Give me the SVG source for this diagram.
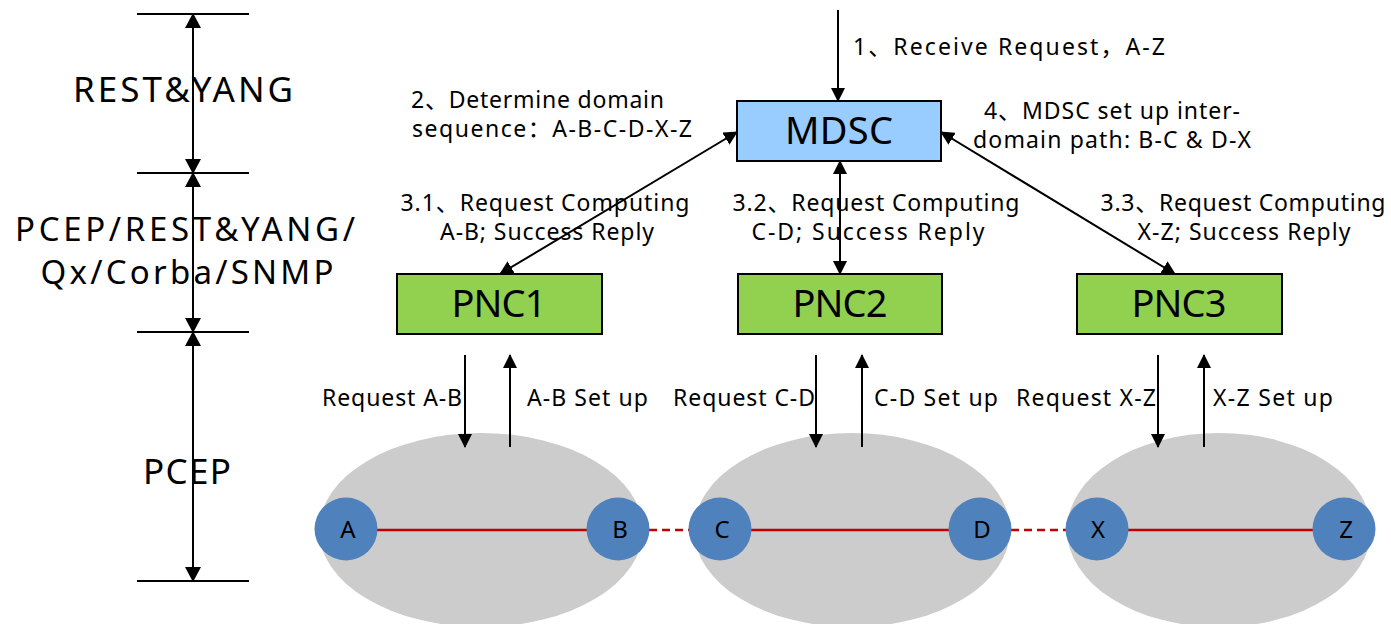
<svg xmlns="http://www.w3.org/2000/svg" width="1391" height="624" viewBox="0 0 1391 624">
  <style>
    text { font-family: "Noto Sans", "Open Sans", "Noto Sans CJK SC", sans-serif; fill: #000; }
    .lbl { font-size: 23px; }
    .big { font-size: 35px; }
    .two { font-size: 33px; }
    .box { font-size: 38px; text-anchor: middle; }
    .nd { font-size: 24px; text-anchor: middle; }
    .mid { text-anchor: middle; }
    .ln { stroke: #000; stroke-width: 2; fill: none; }
    .tick { stroke: #000; stroke-width: 2; }
    .dom { fill: #cccccc; }
    .pe { fill: #4f81bd; }
    .link { stroke: #c00000; stroke-width: 2.5; }
    .dash { stroke-dasharray: 8 5; }
  </style>
  <defs>
    <marker id="ah" viewBox="0 0 14 14" refX="13" refY="7" markerWidth="14" markerHeight="14" markerUnits="userSpaceOnUse" orient="auto-start-reverse">
      <path d="M0,0 L14,7 L0,14 z" fill="#000"/>
    </marker>
    <marker id="ahL" viewBox="0 0 15 16" refX="14" refY="8" markerWidth="15" markerHeight="16" markerUnits="userSpaceOnUse" orient="auto-start-reverse">
      <path d="M0,0 L15,8 L0,16 z" fill="#000"/>
    </marker>
  </defs>

  <!-- protocol layer scale -->
  <g id="scale">
    <line class="tick" x1="137" y1="14" x2="249" y2="14"/>
    <line class="tick" x1="137" y1="173" x2="249" y2="173"/>
    <line class="tick" x1="137" y1="332" x2="249" y2="332"/>
    <line class="tick" x1="137" y1="581" x2="249" y2="581"/>
    <line class="ln" x1="193" y1="14" x2="193" y2="173" marker-start="url(#ahL)" marker-end="url(#ahL)"/>
    <line class="ln" x1="193" y1="173" x2="193" y2="332" marker-start="url(#ahL)" marker-end="url(#ahL)"/>
    <line class="ln" x1="193" y1="332" x2="193" y2="581" marker-start="url(#ahL)" marker-end="url(#ahL)"/>
    <text class="big mid" x="183" y="102" textLength="220">REST&amp;YANG</text>
    <text class="two mid" x="185" y="241" textLength="340">PCEP/REST&amp;YANG/</text>
    <text class="two mid" x="187" y="284" textLength="293">Qx/Corba/SNMP</text>
    <text class="big mid" x="187" y="484" textLength="88">PCEP</text>
  </g>

  <!-- domains -->
  <g id="domain1"><ellipse class="dom" cx="481" cy="530" rx="162" ry="97"/></g>
  <g id="domain2"><ellipse class="dom" cx="852" cy="530" rx="158" ry="97"/></g>
  <g id="domain3"><ellipse class="dom" cx="1219" cy="530" rx="152" ry="97"/></g>

  <!-- connectors -->
  <g id="connectors">
    <line class="ln" x1="838" y1="10" x2="838" y2="101" marker-end="url(#ah)"/>
    <line class="ln" x1="737" y1="132" x2="500" y2="274" marker-start="url(#ah)" marker-end="url(#ah)"/>
    <line class="ln" x1="840" y1="161" x2="840" y2="274" marker-start="url(#ah)" marker-end="url(#ah)"/>
    <line class="ln" x1="941" y1="132" x2="1175" y2="274" marker-start="url(#ah)" marker-end="url(#ah)"/>

    <line class="ln" x1="465" y1="355" x2="465" y2="447" marker-end="url(#ah)"/>
    <line class="ln" x1="510" y1="447" x2="510" y2="355" marker-end="url(#ah)"/>
    <line class="ln" x1="816" y1="355" x2="816" y2="447" marker-end="url(#ah)"/>
    <line class="ln" x1="862" y1="447" x2="862" y2="355" marker-end="url(#ah)"/>
    <line class="ln" x1="1158" y1="355" x2="1158" y2="447" marker-end="url(#ah)"/>
    <line class="ln" x1="1204" y1="447" x2="1204" y2="355" marker-end="url(#ah)"/>

    <line class="link" x1="377" y1="530" x2="587" y2="530"/>
    <line class="link dash" x1="649" y1="530" x2="689" y2="530"/>
    <line class="link" x1="751" y1="530" x2="949" y2="530"/>
    <line class="link dash" x1="1011" y1="530" x2="1066" y2="530"/>
    <line class="link" x1="1128" y1="530" x2="1313" y2="530"/>
  </g>

  <!-- controllers -->
  <g id="mdsc">
    <rect x="737" y="101" width="204" height="60" fill="#99ccff" stroke="#000" stroke-width="2"/>
    <text class="box" x="839" y="144" textLength="108">MDSC</text>
  </g>
  <g id="pnc1">
    <rect x="397" y="274" width="205" height="60" fill="#92d050" stroke="#000" stroke-width="2"/>
    <text class="box" x="499" y="317" textLength="95">PNC1</text>
  </g>
  <g id="pnc2">
    <rect x="738" y="274" width="204" height="60" fill="#92d050" stroke="#000" stroke-width="2"/>
    <text class="box" x="840" y="317" textLength="95">PNC2</text>
  </g>
  <g id="pnc3">
    <rect x="1077" y="274" width="205" height="60" fill="#92d050" stroke="#000" stroke-width="2"/>
    <text class="box" x="1179" y="317" textLength="95">PNC3</text>
  </g>

  <!-- network elements -->
  <g id="ne-a"><circle class="pe" cx="346" cy="529" r="31.5"/><text class="nd" x="348" y="538">A</text></g>
  <g id="ne-b"><circle class="pe" cx="618" cy="529" r="31.5"/><text class="nd" x="620" y="538">B</text></g>
  <g id="ne-c"><circle class="pe" cx="720" cy="529" r="31.5"/><text class="nd" x="722" y="538">C</text></g>
  <g id="ne-d"><circle class="pe" cx="980" cy="529" r="31.5"/><text class="nd" x="982" y="538">D</text></g>
  <g id="ne-x"><circle class="pe" cx="1097" cy="529" r="31.5"/><text class="nd" x="1098" y="538">X</text></g>
  <g id="ne-z"><circle class="pe" cx="1344" cy="529" r="31.5"/><text class="nd" x="1346" y="538">Z</text></g>

  <!-- step labels -->
  <g id="labels">
    <text class="lbl" x="853" y="55" textLength="312">1、Receive Request，A-Z</text>
    <text class="lbl" x="411" y="108" textLength="253">2、Determine domain</text>
    <text class="lbl" x="412" y="137" textLength="280">sequence：A-B-C-D-X-Z</text>
    <text class="lbl mid" x="1112" y="119" textLength="256">4、MDSC set up inter-</text>
    <text class="lbl mid" x="1112" y="148" textLength="278">domain path: B-C &amp; D-X</text>

    <text class="lbl mid" x="545" y="211" textLength="289">3.1、Request Computing</text>
    <text class="lbl mid" x="547" y="240" textLength="214">A-B; Success Reply</text>
    <text class="lbl mid" x="876" y="211" textLength="287">3.2、Request Computing</text>
    <text class="lbl mid" x="868" y="240" textLength="233">C-D; Success Reply</text>
    <text class="lbl mid" x="1243" y="211" textLength="285">3.3、Request Computing</text>
    <text class="lbl mid" x="1244" y="240" textLength="213">X-Z; Success Reply</text>

    <text class="lbl" x="322" y="406" textLength="140">Request A-B</text>
    <text class="lbl" x="527" y="406" textLength="121">A-B Set up</text>
    <text class="lbl" x="673" y="406" textLength="142">Request C-D</text>
    <text class="lbl" x="874" y="406" textLength="124">C-D Set up</text>
    <text class="lbl" x="1016" y="406" textLength="140">Request X-Z</text>
    <text class="lbl" x="1213" y="406" textLength="120">X-Z Set up</text>
  </g>
</svg>
